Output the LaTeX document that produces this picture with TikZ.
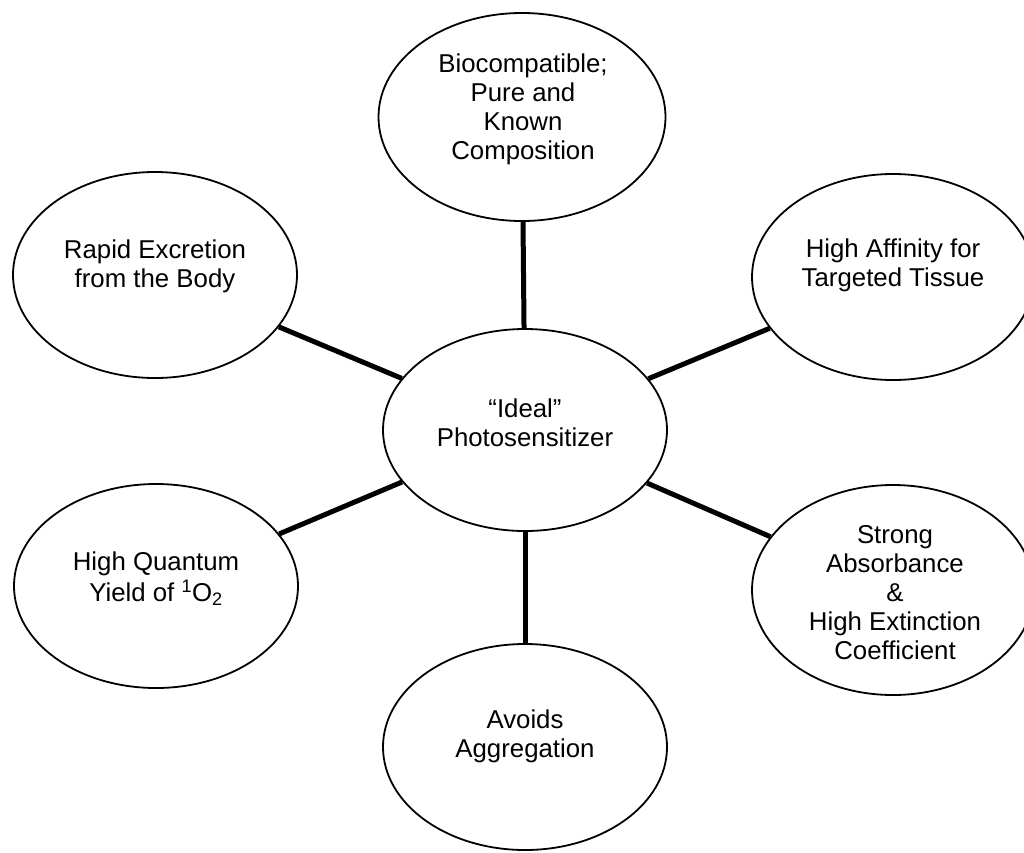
\documentclass[tikz,border=0pt]{standalone}
\usepackage{fontspec}
\setmainfont{Liberation Sans}
\usetikzlibrary{shapes.geometric}
\begin{document}
\begin{tikzpicture}[x=1pt,y=-1pt,
  bubble/.style={ellipse, draw=black, line width=1.8pt, inner sep=0pt},
  caption/.style={align=center, font=\fontsize{25.8}{29}\selectfont, inner sep=0pt},
  link/.style={line width=5pt}]
\useasboundingbox (0,0) rectangle (1024,852);
\clip (0,0) rectangle (1024,852);
% ellipses
\node[bubble, minimum width=287pt, minimum height=208pt] (top) at (522,117) {};
\node[bubble, minimum width=284pt, minimum height=206pt] (tl) at (155,275) {};
\node[bubble, minimum width=282pt, minimum height=206pt] (tr) at (893,277) {};
\node[bubble, minimum width=284pt, minimum height=202pt] (c) at (525,430) {};
\node[bubble, minimum width=284pt, minimum height=204pt] (bl) at (156,586) {};
\node[bubble, minimum width=282pt, minimum height=210pt] (br) at (893,590) {};
\node[bubble, minimum width=284pt, minimum height=206pt] (bot) at (525,747) {};
% connectors
\draw[link] (top) -- (c);
\draw[link] (tl) -- (c);
\draw[link] (tr) -- (c);
\draw[link] (bl) -- (c);
\draw[link] (br) -- (c);
\draw[link] (bot) -- (c);
% texts
\node[caption] (ttop) at (523,110) {\strut Biocompatible;\\ \strut Pure and\\ \strut Known\\ \strut Composition};
\node[caption] (ttl) at (155,267) {\strut Rapid Excretion\\ \strut from the Body};
\node[caption] (ttr) at (893,266) {\strut High Affinity for\\ \strut Targeted Tissue};
\node[caption] (tc) at (525,426) {\strut “Ideal”\\ \strut Photosensitizer};
\node[caption] (tbl) at (156,580) {\strut High Quantum\\ \strut Yield of \textsuperscript{1}O\textsubscript{2}};
\node[caption] (tbr) at (895,596) {\strut Strong\\ \strut Absorbance\\ \strut \&\\ \strut High Extinction\\ \strut Coefficient};
\node[caption] (tbot) at (525,737) {\strut Avoids\\ \strut Aggregation};
\end{tikzpicture}
\end{document}
